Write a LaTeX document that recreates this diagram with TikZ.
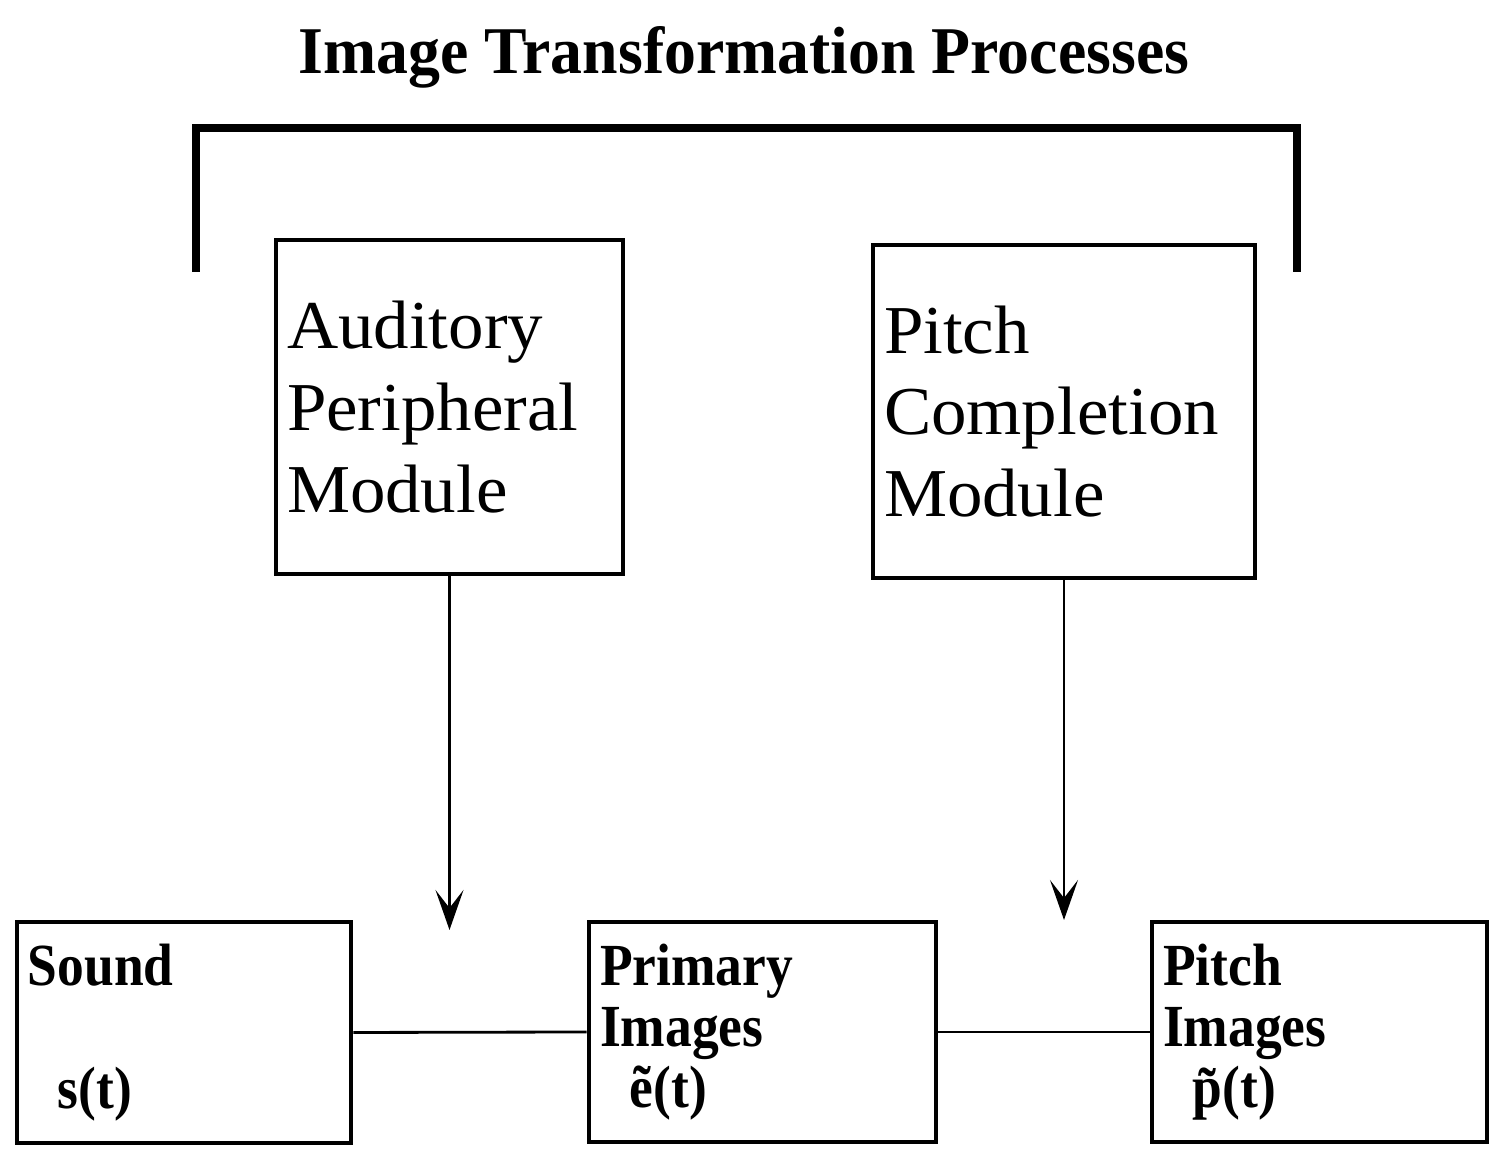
\documentclass[tikz,border=0pt]{standalone}
\usepackage{fontspec}
\setmainfont{Liberation Serif}
\newfontfamily\titlefont{Liberation Serif}[FakeStretch=0.955]
\newfontfamily\modulefont{Liberation Serif}[FakeStretch=1.035]
\newfontfamily\signalfont{Liberation Serif}[FakeStretch=0.895]
\usetikzlibrary{arrows.meta}

\tikzset{
  module/.style={draw, line width=1.4pt, align=left, inner xsep=0.11cm,
    font=\modulefont\fontsize{19.5}{23.3}\selectfont},
  signal/.style={draw, line width=1.4pt, align=left, inner xsep=0.11cm,
    font=\signalfont\bfseries\fontsize{17}{17.4}\selectfont},
  flow/.style={line width=0.8pt, -{Stealth[length=0.4cm, width=0.28cm, inset=0.18cm]}}
}

\begin{document}
\begin{tikzpicture}[line join=miter]

\useasboundingbox (0,0) rectangle (15.03,11.61);

\node[anchor=base] (title) at (7.44,10.87)
  {\titlefont\bfseries\fontsize{19}{22}\selectfont Image Transformation Processes};

% bracket over both modules
\draw[line width=2.3pt] (1.96,8.89) -- (1.96,10.33) -- (12.97,10.33) -- (12.97,8.89);

\node[module, text width=3.25cm, minimum height=3.34cm] (apm) at (4.495,7.54)
  {Auditory\\Peripheral\\Module};
\node[module, text width=3.60cm, minimum height=3.33cm] (pcm) at (10.64,7.495)
  {Pitch\\Completion\\Module};

\node[signal, text width=3.12cm, minimum height=2.21cm] (sound) at (1.84,1.285)
  {Sound\\~\\\enspace s(t)};
\node[signal, text width=3.25cm, minimum height=2.20cm] (primary) at (7.625,1.29)
  {Primary\\Images\\\enspace \~{e}(t)};
\node[signal, text width=3.13cm, minimum height=2.20cm] (pitch) at (13.195,1.29)
  {Pitch\\Images\\\enspace \~{p}(t)};

\coordinate (apmend) at (4.495,2.31);
\coordinate (pcmend) at (10.64,2.41);

\draw[flow] (apm.south) -- (apmend);
\draw[flow] (pcm.south) -- (pcmend);

\draw[line width=0.8pt] (sound.east) -- (primary.west);
\draw[line width=0.8pt] (primary.east) -- (pitch.west);

\end{tikzpicture}
\end{document}
